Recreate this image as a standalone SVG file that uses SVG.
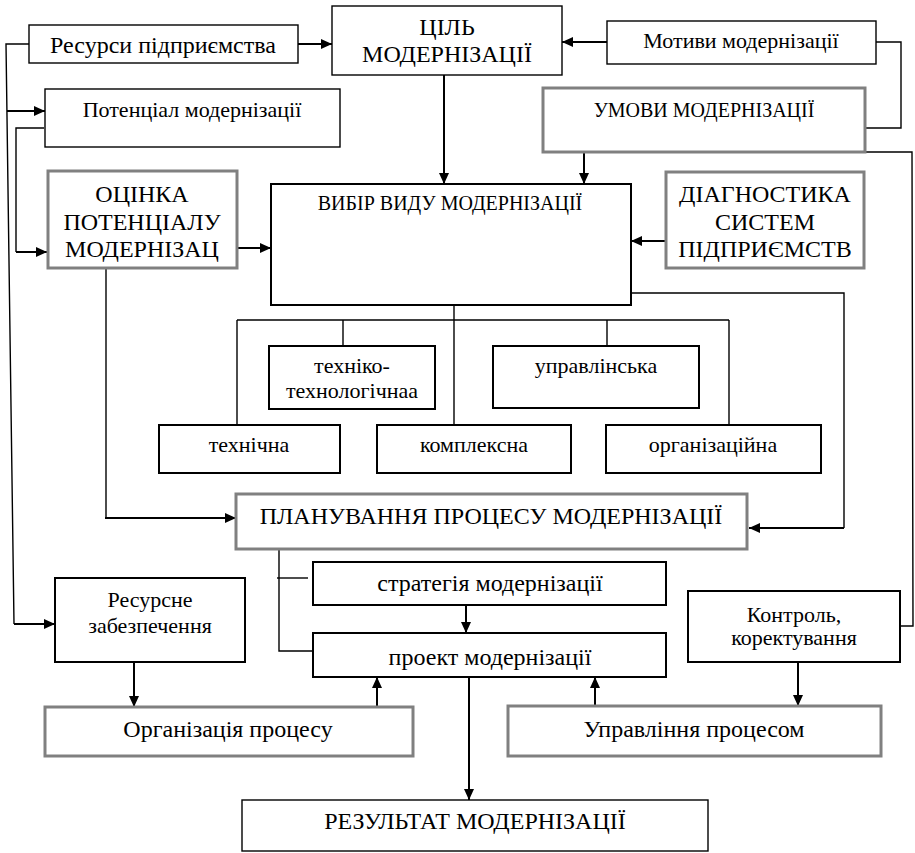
<svg xmlns="http://www.w3.org/2000/svg" width="915" height="853" viewBox="0 0 915 853">
<style>
.b{fill:#fff;stroke:#000;stroke-width:2}
.bt{fill:#fff;stroke:#000;stroke-width:1.4}
.g{fill:#fff;stroke:#808080;stroke-width:3}
text{font-family:'Liberation Serif','Times New Roman','DejaVu Serif','Noto Serif',serif;fill:#000;text-anchor:middle}
.t{font-size:22px}
.T{font-size:24px}
.m{font-size:20px}
.c{fill:none;stroke:#000;stroke-width:2}
.ct{fill:none;stroke:#000;stroke-width:1.4}
</style>
<defs>
<marker id="ah" markerWidth="12" markerHeight="12" refX="11" refY="6" orient="auto" markerUnits="userSpaceOnUse">
<path d="M0,1 L11,6 L0,11 Z" fill="#000"/>
</marker>
</defs>
<g id="connectors">
<polyline class="ct" points="29,44 6,44 14,624"/>
<line class="c" x1="14" y1="624" x2="55" y2="624" marker-end="url(#ah)"/>
<line class="c" x1="7" y1="111" x2="45" y2="111" marker-end="url(#ah)"/>
<polyline class="ct" points="44,128 16,128 16,252"/>
<line class="c" x1="16" y1="252" x2="47" y2="252" marker-end="url(#ah)"/>
<line class="c" x1="298" y1="44" x2="332" y2="44" marker-end="url(#ah)"/>
<line class="c" x1="607" y1="42" x2="562" y2="42" marker-end="url(#ah)"/>
<polyline class="ct" points="876,42 901,42 901,128 865,128"/>
<line class="c" x1="444" y1="75" x2="444" y2="184" marker-end="url(#ah)"/>
<line class="c" x1="584" y1="152" x2="584" y2="184" marker-end="url(#ah)"/>
<line class="c" x1="237" y1="248" x2="271" y2="248" marker-end="url(#ah)"/>
<line class="c" x1="666" y1="241" x2="631" y2="241" marker-end="url(#ah)"/>
<polyline class="ct" points="865,152 912,152 913,626 900,626"/>
<polyline class="ct" points="631,293 844,293 844,528"/>
<line class="c" x1="844" y1="528" x2="749" y2="528" marker-end="url(#ah)"/>
<line class="ct" x1="454" y1="305" x2="454" y2="425"/>
<line class="ct" x1="237" y1="320" x2="729" y2="320"/>
<line class="ct" x1="237" y1="320" x2="237" y2="425"/>
<line class="ct" x1="343" y1="320" x2="343" y2="346"/>
<line class="ct" x1="607" y1="320" x2="607" y2="346"/>
<line class="ct" x1="729" y1="320" x2="729" y2="425"/>
<polyline class="ct" points="106,268 106,518"/>
<line class="c" x1="105" y1="518" x2="236" y2="518" marker-end="url(#ah)"/>
<polyline class="ct" points="279,550 279,651 313,651"/>
<line class="ct" x1="277" y1="578" x2="308" y2="578"/>
<line class="c" x1="466" y1="605" x2="466" y2="633" marker-end="url(#ah)"/>
<line class="c" x1="469" y1="677" x2="469" y2="800" marker-end="url(#ah)"/>
<line class="c" x1="134" y1="662" x2="134" y2="707" marker-end="url(#ah)"/>
<line class="c" x1="377" y1="707" x2="377" y2="677" marker-end="url(#ah)"/>
<line class="c" x1="798" y1="662" x2="798" y2="706" marker-end="url(#ah)"/>
<line class="c" x1="595" y1="706" x2="595" y2="677" marker-end="url(#ah)"/>
</g>
<g id="resources"><rect class="bt" x="29" y="25" width="269" height="38"/><text class="T" x="163" y="53">Ресурси підприємства</text></g>
<g id="goal"><rect class="bt" x="332" y="6" width="230" height="69"/><text class="T" x="447" y="35">ЦІЛЬ</text><text class="T" x="447" y="62">МОДЕРНІЗАЦІЇ</text></g>
<g id="motives"><rect class="bt" x="607" y="21" width="269" height="43"/><text class="t" x="741" y="48">Мотиви модернізації</text></g>
<g id="potential"><rect class="bt" x="45" y="89" width="295" height="58"/><text class="t" x="192" y="117">Потенціал модернізації</text></g>
<g id="conditions"><rect class="g" x="543" y="88" width="322" height="64"/><text class="m" x="704" y="117">УМОВИ МОДЕРНІЗАЦІЇ</text></g>
<g id="assessment"><rect class="g" x="48" y="171" width="189" height="97"/><text class="T" x="142" y="202">ОЦІНКА</text><text class="T" x="142" y="230">ПОТЕНЦІАЛУ</text><text class="T" x="142" y="257">МОДЕРНІЗАЦ</text></g>
<g id="choice"><rect class="b" x="271" y="184" width="360" height="121"/><text class="m" x="450" y="210">ВИБІР ВИДУ МОДЕРНІЗАЦІЇ</text></g>
<g id="diagnostics"><rect class="g" x="666" y="172" width="198" height="96"/><text class="T" x="765" y="202">ДІАГНОСТИКА</text><text class="T" x="765" y="230">СИСТЕМ</text><text class="T" x="765" y="257">ПІДПРИЄМСТВ</text></g>
<g id="techtech"><rect class="b" x="269" y="346" width="166" height="63"/><text class="t" x="352" y="373">техніко-</text><text class="t" x="352" y="398">технологічнаа</text></g>
<g id="managerial"><rect class="b" x="493" y="346" width="206" height="62"/><text class="t" x="596" y="373">управлінська</text></g>
<g id="technical"><rect class="b" x="159" y="425" width="181" height="48"/><text class="t" x="249" y="452">технічна</text></g>
<g id="complex"><rect class="b" x="377" y="425" width="194" height="48"/><text class="t" x="474" y="452">комплексна</text></g>
<g id="organizational"><rect class="b" x="606" y="425" width="215" height="48"/><text class="t" x="713" y="452">організаційна</text></g>
<g id="planning"><rect class="g" x="236" y="494" width="511" height="55"/><text class="T" x="491" y="524">ПЛАНУВАННЯ ПРОЦЕСУ МОДЕРНІЗАЦІЇ</text></g>
<g id="strategy"><rect class="b" x="313" y="562" width="353" height="43"/><text class="T" x="490" y="591">стратегія модернізації</text></g>
<g id="project"><rect class="b" x="313" y="633" width="353" height="44"/><text class="T" x="490" y="665">проект модернізації</text></g>
<g id="resupply"><rect class="b" x="55" y="578" width="190" height="84"/><text class="t" x="150" y="607">Ресурсне</text><text class="t" x="150" y="633">забезпечення</text></g>
<g id="control"><rect class="b" x="688" y="591" width="212" height="71"/><text class="t" x="794" y="622">Контроль,</text><text class="t" x="794" y="645">коректування</text></g>
<g id="organization"><rect class="g" x="45" y="707" width="368" height="49"/><text class="T" x="228" y="737">Організація процесу</text></g>
<g id="management"><rect class="g" x="508" y="706" width="373" height="50"/><text class="T" x="694" y="737">Управління процесом</text></g>
<g id="result"><rect class="bt" x="242" y="800" width="466" height="51"/><text class="T" x="475" y="829">РЕЗУЛЬТАТ МОДЕРНІЗАЦІЇ</text></g>
</svg>
